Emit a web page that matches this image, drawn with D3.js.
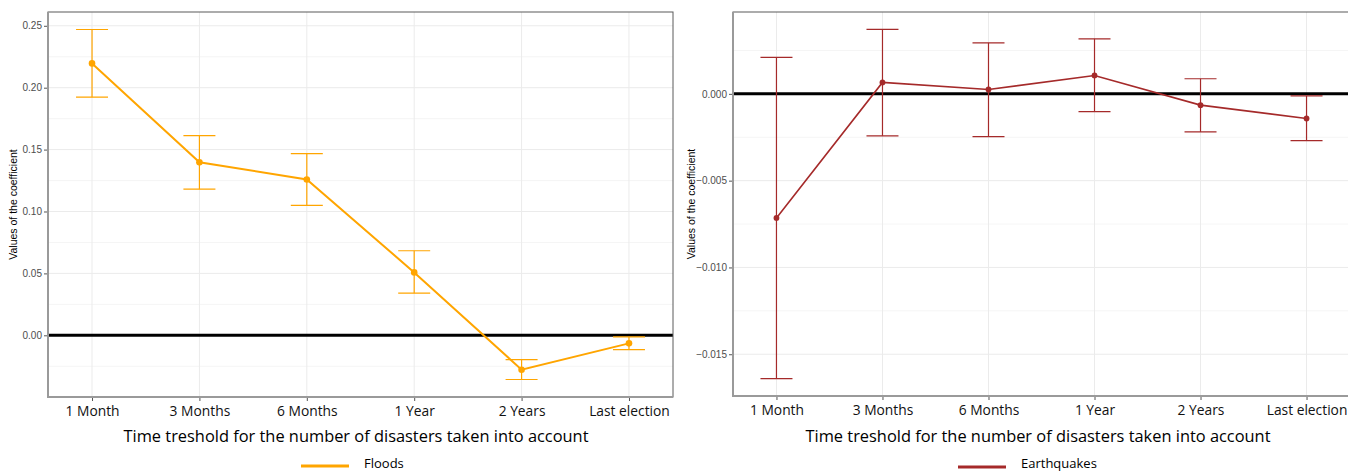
<!DOCTYPE html>
<html>
<head>
<meta charset="utf-8">
<script src="https://cdn.jsdelivr.net/npm/d3@7"></script>
<style>
  html, body { margin: 0; padding: 0; background: #fff; }
  svg { display: block; }
</style>
</head>
<body>
<svg id="chart" width="1348" height="473"></svg>
<script>
// Time windows used for counting disasters
const categories = ["1 Month", "3 Months", "6 Months", "1 Year", "2 Years", "Last election"];

// Floods: coefficient estimates with confidence bounds
const floodsCoef  = [0.2196, 0.1397, 0.1259, 0.0508, -0.0278, -0.0065];
const floodsLower = [0.1923, 0.1180, 0.1050, 0.0340, -0.0357, -0.0116];
const floodsUpper = [0.2470, 0.1613, 0.1467, 0.0683, -0.0197, -0.0012];
const floodsTicks = [0.00, 0.05, 0.10, 0.15, 0.20, 0.25];

// Earthquakes: coefficient estimates with confidence bounds
const quakesCoef  = [-0.00715, 0.00066, 0.00025, 0.00106, -0.00065, -0.00142];
const quakesLower = [-0.01640, -0.00242, -0.00246, -0.00102, -0.00219, -0.00269];
const quakesUpper = [0.00210, 0.00371, 0.00294, 0.00317, 0.00087, -0.00012];
const quakesTicks = [-0.015, -0.010, -0.005, 0.000];

const xTitle = "Time treshold for the number of disasters taken into account";
const yTitle = "Values of the coefficient";

const svg = d3.select("#chart");

function drawPanel(cfg) {
  const { left, right, top, bottom, coef, lower, upper, ticks, fmt, color,
          lineW, pointR, name, titleX, yTitleX, legendX, legendY } = cfg;

  // y domain: data range plus 5% on each side (zero line included)
  const lo = Math.min(0, d3.min(lower)), hi = Math.max(0, d3.max(upper));
  const pad = (hi - lo) * 0.05;
  const y = d3.scaleLinear().domain([lo - pad, hi + pad]).range([bottom, top]);
  const x = d3.scalePoint().domain(categories).range([left, right]).padding(0.41);

  const g = svg.append("g");

  // minor grid
  const step = ticks[1] - ticks[0];
  const minor = [];
  for (let v = ticks[0] - step / 2; v <= hi + pad; v += step) {
    if (v >= lo - pad) minor.push(v);
  }
  g.selectAll(".minor").data(minor).join("line")
    .attr("x1", left).attr("x2", right)
    .attr("y1", d => y(d)).attr("y2", d => y(d))
    .attr("stroke", "#f2f2f2").attr("stroke-width", 0.8);

  // major grid
  g.selectAll(".major").data(ticks).join("line")
    .attr("x1", left).attr("x2", right)
    .attr("y1", d => y(d)).attr("y2", d => y(d))
    .attr("stroke", "#ebebeb").attr("stroke-width", 1);
  g.selectAll(".vgrid").data(categories).join("line")
    .attr("x1", d => x(d)).attr("x2", d => x(d))
    .attr("y1", top).attr("y2", bottom)
    .attr("stroke", "#ebebeb").attr("stroke-width", 1);

  // zero reference line
  g.append("line")
    .attr("x1", left).attr("x2", right)
    .attr("y1", y(0)).attr("y2", y(0))
    .attr("stroke", "#000").attr("stroke-width", 3);

  // error bars
  const half = 16;
  const eb = g.append("g").attr("stroke", color).attr("stroke-width", 1.2).attr("fill", "none");
  categories.forEach((c, i) => {
    const cx = x(c);
    eb.append("line").attr("x1", cx).attr("x2", cx).attr("y1", y(upper[i])).attr("y2", y(lower[i]));
    eb.append("line").attr("x1", cx - half).attr("x2", cx + half).attr("y1", y(upper[i])).attr("y2", y(upper[i]));
    eb.append("line").attr("x1", cx - half).attr("x2", cx + half).attr("y1", y(lower[i])).attr("y2", y(lower[i]));
  });

  // connecting line and points
  const line = d3.line().x((d, i) => x(categories[i])).y(d => y(d));
  g.append("path").datum(coef).attr("d", line)
    .attr("fill", "none").attr("stroke", color).attr("stroke-width", lineW);
  g.selectAll(".pt").data(coef).join("circle")
    .attr("cx", (d, i) => x(categories[i])).attr("cy", d => y(d))
    .attr("r", pointR).attr("fill", color);

  // panel border
  g.append("rect")
    .attr("x", left).attr("y", top).attr("width", right - left).attr("height", bottom - top)
    .attr("fill", "none").attr("stroke", "#5a5a5a").attr("stroke-width", 1);
  g.append("path")
    .attr("d", `M${left},${top}V${bottom}H${right}`)
    .attr("fill", "none").attr("stroke", "#9a9a9a").attr("stroke-width", 2);

  // y axis
  const yAxis = d3.axisLeft(y).tickValues(ticks).tickFormat(fmt).tickSize(3).tickPadding(2);
  const ya = g.append("g").attr("transform", `translate(${left - 1},0)`).call(yAxis);
  ya.select(".domain").remove();
  ya.selectAll(".tick line").attr("stroke", "#555");
  ya.selectAll(".tick text").attr("fill", "#4d4d4d")
    .style("font-family", "'Liberation Sans', Arial, sans-serif").style("font-size", "10px");

  // x axis
  const xAxis = d3.axisBottom(x).tickSize(3).tickPadding(5);
  const xa = g.append("g").attr("transform", `translate(0,${bottom + 1})`).call(xAxis);
  xa.select(".domain").remove();
  xa.selectAll(".tick line").attr("stroke", "#555");
  xa.selectAll(".tick text").attr("fill", "#111")
    .style("font-family", "'Open Sans', sans-serif").style("font-size", "13.8px");

  // axis titles
  g.append("text")
    .attr("transform", `translate(${yTitleX},${(top + bottom) / 2}) rotate(-90)`)
    .attr("text-anchor", "middle")
    .style("font-family", "'Liberation Sans', Arial, sans-serif").style("font-size", "10.5px")
    .attr("fill", "#000").text(yTitle);
  g.append("text")
    .attr("x", titleX).attr("y", 442)
    .attr("text-anchor", "middle")
    .style("font-family", "'Open Sans', sans-serif").style("font-size", "16.4px")
    .attr("fill", "#000").text(xTitle);

  // legend
  g.append("line")
    .attr("x1", legendX).attr("x2", legendX + 48)
    .attr("y1", legendY).attr("y2", legendY)
    .attr("stroke", color).attr("stroke-width", 3);
  g.append("text")
    .attr("x", legendX + 63).attr("y", 467.5)
    .style("font-family", "'Open Sans', sans-serif").style("font-size", "13px")
    .attr("fill", "#000").text(name);
}

drawPanel({
  left: 48, right: 673, top: 12, bottom: 397,
  coef: floodsCoef, lower: floodsLower, upper: floodsUpper,
  ticks: floodsTicks, fmt: d3.format(".2f"), color: "#ffa500",
  lineW: 2, pointR: 3.3, name: "Floods",
  titleX: 356, yTitleX: 17, legendX: 301, legendY: 466
});

drawPanel({
  left: 733, right: 1350, top: 12, bottom: 396,
  coef: quakesCoef, lower: quakesLower, upper: quakesUpper,
  ticks: quakesTicks, fmt: d3.format(".3f"), color: "#a52a2a",
  lineW: 1.6, pointR: 2.9, name: "Earthquakes",
  titleX: 1038, yTitleX: 695, legendX: 958, legendY: 467
});
</script>
</body>
</html>
